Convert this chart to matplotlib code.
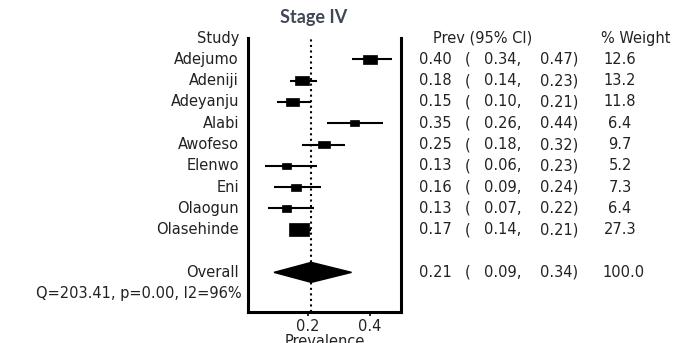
import matplotlib
matplotlib.use('Agg')
import matplotlib.pyplot as plt
import matplotlib.transforms as mtransforms
from matplotlib.patches import Rectangle, Polygon
import numpy as np

# study level data
studies = ["Adejumo", "Adeniji", "Adeyanju", "Alabi", "Awofeso",
           "Elenwo", "Eni", "Olaogun", "Olasehinde"]
prev = [0.40, 0.18, 0.15, 0.35, 0.25, 0.13, 0.16, 0.13, 0.17]
ci_low = [0.34, 0.14, 0.10, 0.26, 0.18, 0.06, 0.09, 0.07, 0.14]
ci_high = [0.47, 0.23, 0.21, 0.44, 0.32, 0.23, 0.24, 0.22, 0.21]
weights = [12.6, 13.2, 11.8, 6.4, 9.7, 5.2, 7.3, 6.4, 27.3]

overall_prev = 0.21
overall_low = 0.09
overall_high = 0.34
overall_weight = 100.0
het_text = "Q=203.41, p=0.00, I2=96%"

xticks = [0.2, 0.4]

FS = 10.5
FONT = 'DejaVu Sans'
plt.rcParams['font.family'] = FONT

W, H = 679, 343
fig = plt.figure(figsize=(W / 100, H / 100), dpi=100)
ax = fig.add_axes([248 / W, 1 - 312 / H, 153 / W, 274 / H])

n = len(studies)
rows = np.arange(1, n + 1)
overall_row = n + 2
het_row = n + 3

# study CIs and weight boxes
ax.hlines(rows, ci_low, ci_high, color='black', lw=1.5)
for r, p, w in zip(rows, prev, weights):
    bw = 0.01235 * np.sqrt(w)
    bh = 0.117 * np.sqrt(w)
    ax.add_patch(Rectangle((p - bw / 2, r - bh / 2), bw, bh,
                           facecolor='black', edgecolor='black', lw=0.5))

# pooled estimate diamond
half = 0.47
ax.add_patch(Polygon([(overall_low, overall_row), (overall_prev, overall_row - half),
                      (overall_high, overall_row), (overall_prev, overall_row + half)],
                     closed=True, facecolor='black', edgecolor='black'))

ax.axvline(overall_prev, color='black', ls=':', lw=1.5)

ax.set_xlim(0.006, 0.4995)
ax.set_ylim(12.86, 0)
ax.set_xticks(xticks)
ax.set_xticklabels([f"{t:.1f}" for t in xticks], fontsize=FS, color='#222222',
                   family=FONT)
ax.tick_params(axis='x', direction='out', length=3, width=1.2, pad=2)
ax.set_yticks([])
ax.spines['top'].set_visible(False)
for s in ['left', 'right', 'bottom']:
    ax.spines[s].set_linewidth(2.2)

# text columns: x in figure fraction, y in data rows
tr = mtransforms.blended_transform_factory(fig.transFigure, ax.transData)
txt = dict(transform=tr, fontsize=FS, va='center', color='#222222',
           family=FONT, clip_on=False)


def ci_row(r, p, lo, hi, w, w_x=620):
    # pieces centred where the reference columns sit
    ax.text(435 / W, r, f"{p:.2f}", ha='center', **txt)
    ax.text(468 / W, r, "(", ha='center', **txt)
    ax.text(503 / W, r, f"{lo:.2f},", ha='center', **txt)
    ax.text(559 / W, r, f"{hi:.2f})", ha='center', **txt)
    ax.text(w_x / W, r, f"{w:.1f}", ha='center', **txt)


ax.text(239 / W, 0, "Study", ha='right', **txt)
ax.text(483 / W, 0, "Prev (95% CI)", ha='center', **txt)
ax.text(636 / W, 0, "% Weight", ha='center', **txt)

for r, name, p, lo, hi, w in zip(rows, studies, prev, ci_low, ci_high, weights):
    ax.text(239 / W, r, name, ha='right', **txt)
    ci_row(r, p, lo, hi, w)

ax.text(239 / W, overall_row, "Overall", ha='right', **txt)
ci_row(overall_row, overall_prev, overall_low, overall_high, overall_weight, w_x=624)
ax.text(242 / W, het_row, het_text, ha='right', **txt)

fig.text(314 / W, 1 - 17 / H, "Stage IV", ha='center', va='center',
         fontsize=13, fontweight='bold', family='Lato', color='#404855')
fig.text(324.5 / W, 1 - 341 / H, "Prevalence", ha='center', va='center',
         fontsize=FS, color='#222222', family=FONT)

fig.savefig('out.png', dpi=100)
